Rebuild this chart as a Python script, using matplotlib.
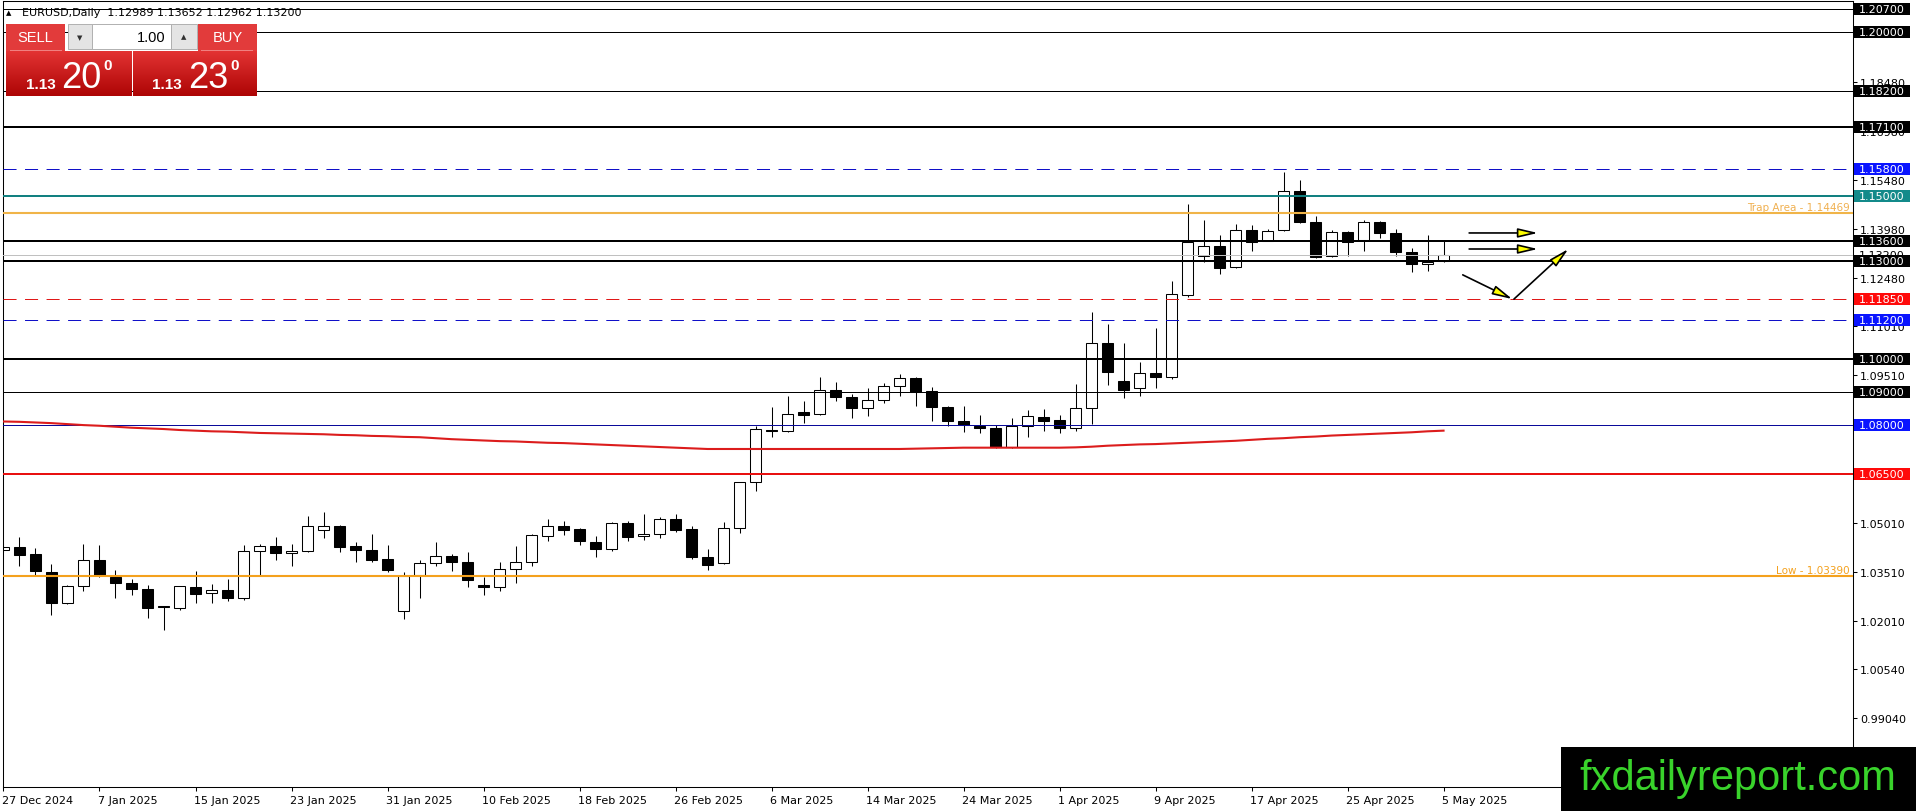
import matplotlib
matplotlib.use("Agg")
from matplotlib import pyplot as plt
from matplotlib.patches import Rectangle, FancyArrowPatch
import matplotlib.transforms as mtransforms
import numpy as np

plt.rcParams['font.family'] = ['DejaVu Sans']
plt.rcParams['lines.scale_dashes'] = False

W, H = 1916, 812

# dane świec
date_labels = ["27 Dec 2024", "7 Jan 2025", "15 Jan 2025", "23 Jan 2025", "31 Jan 2025",
               "10 Feb 2025", "18 Feb 2025", "26 Feb 2025", "6 Mar 2025", "14 Mar 2025",
               "24 Mar 2025", "1 Apr 2025", "9 Apr 2025", "17 Apr 2025", "25 Apr 2025", "5 May 2025"]

opens = [1.0418, 1.0426, 1.0405, 1.0351, 1.0256, 1.0307, 1.0387, 1.0336, 1.0317, 1.0298,
         1.0243, 1.0241, 1.0303, 1.0285, 1.0295, 1.0270, 1.0413, 1.0429, 1.0408, 1.0413,
         1.0477, 1.0490, 1.0429, 1.0417, 1.0390, 1.0232, 1.0342, 1.0378, 1.0398, 1.0382,
         1.0310, 1.0303, 1.0359, 1.0380, 1.0461, 1.0490, 1.0482, 1.0441, 1.0419, 1.0499,
         1.0459, 1.0465, 1.0512, 1.0481, 1.0395, 1.0377, 1.0484, 1.0624, 1.0785, 1.0782,
         1.0838, 1.0833, 1.0907, 1.0884, 1.0850, 1.0877, 1.0919, 1.0942, 1.0902, 1.0853,
         1.0810, 1.0797, 1.0789, 1.0733, 1.0795, 1.0823, 1.0816, 1.0789, 1.0850, 1.1049,
         1.0933, 1.0911, 1.0957, 1.0947, 1.1197, 1.1317, 1.1347, 1.1281, 1.1396, 1.1362,
         1.1395, 1.1513, 1.1419, 1.1315, 1.1388, 1.1364, 1.1419, 1.1385, 1.1327, 1.1291,
         1.12989]
highs = [1.0440, 1.0456, 1.0423, 1.0375, 1.0309, 1.0436, 1.0434, 1.0356, 1.0328, 1.0310,
         1.0247, 1.0308, 1.0354, 1.0313, 1.0329, 1.0433, 1.0436, 1.0456, 1.0436, 1.0522,
         1.0532, 1.0494, 1.0443, 1.0466, 1.0433, 1.0349, 1.0387, 1.0443, 1.0405, 1.0412,
         1.0336, 1.0380, 1.0429, 1.0466, 1.0512, 1.0505, 1.0484, 1.0459, 1.0502, 1.0505,
         1.0527, 1.0519, 1.0527, 1.0490, 1.0420, 1.0504, 1.0626, 1.0797, 1.0853, 1.0887,
         1.0872, 1.0945, 1.0930, 1.0894, 1.0911, 1.0928, 1.0955, 1.0945, 1.0914, 1.0858,
         1.0856, 1.0830, 1.0800, 1.0821, 1.0845, 1.0848, 1.0830, 1.0925, 1.1144, 1.1108,
         1.1050, 1.0991, 1.1096, 1.1240, 1.1475, 1.1426, 1.1380, 1.1413, 1.1410, 1.1398,
         1.1571, 1.1548, 1.1439, 1.1396, 1.1391, 1.1426, 1.1424, 1.1398, 1.1340, 1.1380,
         1.13652]
lows = [1.0410, 1.0369, 1.0341, 1.0219, 1.0253, 1.0293, 1.0336, 1.0272, 1.0281, 1.0211,
        1.0174, 1.0235, 1.0255, 1.0255, 1.0263, 1.0266, 1.0341, 1.0387, 1.0369, 1.0410,
        1.0453, 1.0412, 1.0380, 1.0382, 1.0349, 1.0207, 1.0270, 1.0368, 1.0352, 1.0303,
        1.0281, 1.0293, 1.0316, 1.0369, 1.0446, 1.0464, 1.0434, 1.0397, 1.0415, 1.0446,
        1.0449, 1.0453, 1.0473, 1.0390, 1.0357, 1.0375, 1.0468, 1.0599, 1.0764, 1.0779,
        1.0804, 1.0831, 1.0874, 1.0820, 1.0828, 1.0867, 1.0889, 1.0858, 1.0812, 1.0795,
        1.0779, 1.0775, 1.0730, 1.0730, 1.0764, 1.0782, 1.0775, 1.0780, 1.0802, 1.0922,
        1.0881, 1.0887, 1.0912, 1.0940, 1.1190, 1.1296, 1.1261, 1.1278, 1.1332, 1.1360,
        1.1393, 1.1416, 1.1309, 1.1313, 1.1315, 1.1330, 1.1370, 1.1317, 1.1266, 1.1271,
        1.12962]
closes = [1.0427, 1.0403, 1.0352, 1.0255, 1.0306, 1.0387, 1.0341, 1.0316, 1.0297, 1.0241,
          1.0242, 1.0306, 1.0284, 1.0295, 1.0270, 1.0413, 1.0429, 1.0407, 1.0415, 1.0490,
          1.0490, 1.0428, 1.0418, 1.0388, 1.0357, 1.0337, 1.0378, 1.0398, 1.0380, 1.0326,
          1.0303, 1.0359, 1.0380, 1.0463, 1.0490, 1.0479, 1.0444, 1.0419, 1.0499, 1.0458,
          1.0466, 1.0512, 1.0479, 1.0395, 1.0373, 1.0484, 1.0624, 1.0787, 1.0782, 1.0833,
          1.0831, 1.0907, 1.0884, 1.0850, 1.0877, 1.0919, 1.0942, 1.0899, 1.0853, 1.0812,
          1.0800, 1.0789, 1.0733, 1.0796, 1.0826, 1.0812, 1.0789, 1.0850, 1.1049, 1.0960,
          1.0907, 1.0957, 1.0947, 1.1200, 1.1359, 1.1347, 1.1278, 1.1396, 1.1359, 1.1391,
          1.1513, 1.1419, 1.1313, 1.1388, 1.1359, 1.1419, 1.1385, 1.1327, 1.1291, 1.1296,
          1.13200]

# średnia krocząca (czerwona linia)
ma = [1.0810, 1.0809, 1.0807, 1.0805, 1.0802, 1.0799, 1.0797, 1.0794, 1.0791, 1.0789,
      1.0787, 1.0784, 1.0782, 1.0780, 1.0779, 1.0777, 1.0775, 1.0774, 1.0773, 1.0772,
      1.0771, 1.0769, 1.0768, 1.0766, 1.0765, 1.0763, 1.0762, 1.0759, 1.0756, 1.0754,
      1.0752, 1.0750, 1.0749, 1.0747, 1.0745, 1.0744, 1.0742, 1.0740, 1.0738, 1.0736,
      1.0734, 1.0732, 1.0730, 1.0728, 1.0726, 1.0726, 1.0726, 1.0726, 1.0726, 1.0726,
      1.0726, 1.0726, 1.0726, 1.0726, 1.0726, 1.0726, 1.0726, 1.0727, 1.0728, 1.0729,
      1.0730, 1.0730, 1.0730, 1.0730, 1.0730, 1.0730, 1.0730, 1.0731, 1.0733, 1.0736,
      1.0738, 1.0740, 1.0741, 1.0743, 1.0745, 1.0747, 1.0749, 1.0751, 1.0754, 1.0757,
      1.0759, 1.0762, 1.0764, 1.0767, 1.0769, 1.0771, 1.0773, 1.0775, 1.0777, 1.0780,
      1.0782]

# poziomy
levels = [1.20700, 1.20000, 1.18200, 1.17100, 1.15800, 1.15000, 1.13600, 1.13000,
          1.11850, 1.11200, 1.10000, 1.09000, 1.08000, 1.06500]
trap_level = 1.14469
low_level = 1.03390
bid_level = 1.13200
ytick_values = [1.1998, 1.1848, 1.1698, 1.1548, 1.1398, 1.1248, 1.1101, 1.0951, 1.0801,
                1.0651, 1.0501, 1.0351, 1.0201, 1.0054, 0.9904]

# strzałki (x w numerach świec, y w cenie)
arrow_x0 = [91.6, 91.6, 91.2, 94.4]
arrow_y0 = [1.1386, 1.1337, 1.1258, 1.1184]
arrow_x1 = [95.9, 95.9, 94.3, 97.8]
arrow_y1 = [1.1386, 1.1337, 1.1184, 1.1337]

# style poziomów
level_colors = ["black", "black", "black", "black", "#1010c8", "#128080", "black", "black",
                "#e01818", "#1010c8", "black", "black", "#0a0a9a", "#e81010"]
box_colors = ["black", "black", "black", "black", "#0a14ff", "#138a8a", "black", "black",
              "#ff0a0a", "#0a14ff", "black", "black", "#0a14ff", "#ff0a0a"]
level_px = [1, 1, 1, 2, 1, 2, 2, 2, 1, 1, 2, 1, 1, 2]
level_dash = [False, False, False, False, True, False, False, False, True, True, False, False, False, False]

fig = plt.figure(figsize=(W / 100, H / 100), dpi=100)
fig.patch.set_facecolor("white")


def to_fig(x, y, w, h):
    return [x / W, 1 - (y + h) / H, w / W, h / H]


ax = fig.add_axes(to_fig(3, 2, 1850, 786))
ymin, ymax = 0.96933, 1.20947
ax.set_xlim(-0.031, 115.59)
ax.set_ylim(ymin, ymax)
px_y = (ymax - ymin) / 786.0

for s in ax.spines.values():
    s.set_linewidth(0.75)
    s.set_color("black")

# świece
n = len(opens)
xs = np.arange(n)
ax.vlines(xs, lows, highs, color="black", lw=0.75, zorder=2)
for i in range(n):
    o, c = opens[i], closes[i]
    bottom = min(o, c)
    hgt = max(abs(c - o), px_y)
    fc = "white" if c >= o else "black"
    ax.add_patch(Rectangle((i - 0.33, bottom), 0.66, hgt, facecolor=fc,
                           edgecolor="black", lw=0.75, zorder=2.1))

# linie poziome
for lv, col, lw, d in zip(levels, level_colors, level_px, level_dash):
    line = ax.axhline(lv, color=col, lw=lw * 0.72, zorder=3)
    if d:
        line.set_dashes((9.4, 6.1))
ax.axhline(bid_level, color="#c0c0c0", lw=0.72, zorder=2.9)
ax.axhline(trap_level, color="#f0b448", lw=1.5, zorder=3)
ax.axhline(low_level, color="#f4a11d", lw=1.5, zorder=3)

# średnia
ax.plot(xs, ma, color="#dc1c1c", lw=1.5, zorder=3.1)

# strzałki
for x0, y0, x1, y1 in zip(arrow_x0, arrow_y0, arrow_x1, arrow_y1):
    ar = FancyArrowPatch((x0, y0), (x1, y1), arrowstyle="-|>,head_length=12,head_width=2.8",
                         mutation_scale=1, fc="#ffff00", ec="black", lw=1.2,
                         shrinkA=0, shrinkB=0, zorder=5)
    ax.add_patch(ar)

# osie
ax.yaxis.tick_right()
ax.set_yticks(ytick_values)
ax.set_yticklabels(["%.5f" % v for v in ytick_values])
ax.tick_params(axis="y", direction="out", length=3, width=0.75, pad=2, labelsize=8)
ax.set_xticks(range(0, n, 6))
ax.set_xticklabels(date_labels, ha="left")
ax.tick_params(axis="x", direction="out", length=3, width=0.75, pad=3, labelsize=8)
for lab in ax.get_xticklabels():
    lab.set_transform(lab.get_transform() + mtransforms.ScaledTranslation(-1.5 / 100, 0, fig.dpi_scale_trans))

blend = mtransforms.blended_transform_factory(ax.transAxes, ax.transData)
# etykieta bid (częściowo zasłonięta)
ax.text(1 + 6 / 1850, bid_level, "%.5f" % bid_level, transform=blend, fontsize=8,
        color="black", va="center", ha="left", zorder=9, clip_on=False)
box_h = 12 * px_y
for lv, bc in zip(levels, box_colors):
    ax.add_patch(Rectangle((1 + 1 / 1850, lv - box_h / 2), 56 / 1850, box_h, transform=blend,
                           facecolor=bc, edgecolor="none", clip_on=False, zorder=10))
    ax.text(1 + 6 / 1850, lv, "%.5f" % lv, transform=blend, fontsize=8, color="white",
            va="center", ha="left", zorder=11, clip_on=False)

ax.text(1 - 3 / 1850, trap_level + 0.7 * px_y, "Trap Area - %.5f" % trap_level, transform=blend,
        fontsize=7.5, color="#f0b050", ha="right", va="bottom", zorder=6)
ax.text(1 - 3 / 1850, low_level + 0.7 * px_y, "Low - %.5f" % low_level, transform=blend,
        fontsize=7.5, color="#f4a11d", ha="right", va="bottom", zorder=6)

# nagłówek
fig.text(6 / W, 1 - 13 / H, "▲", fontsize=5, va="center", ha="left")
fig.text(22 / W, 1 - 13 / H, "EURUSD,Daily  %.5f %.5f %.5f %.5f" % (opens[-1], highs[-1], lows[-1], closes[-1]),
         fontsize=8, va="center", ha="left")

# panel handlu
def frect(x, y, w, h, fc, ec="none", lw=0.0):
    fig.add_artist(Rectangle((x / W, 1 - (y + h) / H), w / W, h / H, transform=fig.transFigure,
                             facecolor=fc, edgecolor=ec, lw=lw, zorder=1))


frect(6, 25, 59, 27, "#e23b3b")
frect(198, 25, 59, 27, "#e23b3b")
frect(68, 25, 24, 25, "#e4e4e4", "#b0b0b0", 0.7)
frect(92, 25, 79, 25, "white", "#b0b0b0", 0.7)
frect(171, 25, 26, 25, "#e4e4e4", "#b0b0b0", 0.7)
frect(10, 51, 52, 1, "#f08080")
frect(201, 51, 52, 1, "#f08080")

grad = np.linspace(0, 1, 60)[:, None, None]
top_c = np.array([0.89, 0.20, 0.20])
bot_c = np.array([0.68, 0.02, 0.02])
img = top_c * (1 - grad) + bot_c * grad
for bx, bw in [(6, 125), (133, 124)]:
    gax = fig.add_axes(to_fig(bx, 52, bw, 45))
    gax.imshow(img, aspect="auto")
    gax.axis("off")
    gax.set_zorder(1.5)

ui_font = "Liberation Sans"
fig.text(35.5 / W, 1 - 38.5 / H, "SELL", color="white", fontsize=10.5, family=ui_font,
         ha="center", va="center")
fig.text(227.5 / W, 1 - 38.5 / H, "BUY", color="white", fontsize=10.5, family=ui_font,
         ha="center", va="center")
fig.text(165 / W, 1 - 37.5 / H, "1.00", color="black", fontsize=10.5, family=ui_font,
         ha="right", va="center")
fig.text(80 / W, 1 - 38 / H, "▼", color="#303030", fontsize=5, ha="center", va="center")
fig.text(184 / W, 1 - 37 / H, "▲", color="#303030", fontsize=5, ha="center", va="center")
for x_small, x_big, x_sup, big in [(26, 61, 103, "20"), (152, 188, 230, "23")]:
    fig.text(x_small / W, 1 - 89 / H, "1.13", color="white", fontsize=11, fontweight="bold",
             family=ui_font, ha="left", va="baseline")
    fig.text(x_big / W, 1 - 88 / H, big, color="white", fontsize=26, family=ui_font,
             ha="left", va="baseline")
    fig.text(x_sup / W, 1 - 66 / H, "0", color="white", fontsize=11, fontweight="bold",
             family=ui_font, ha="left", va="center")

# znak wodny
frect(1561, 748, 355, 64, "black")
fig.text(1738 / W, 1 - 779 / H, "fxdailyreport.com", color="#39d32b", fontsize=30,
         family="Liberation Sans", ha="center", va="center", zorder=4)

fig.savefig("out.png", dpi=100)
plt.close()
